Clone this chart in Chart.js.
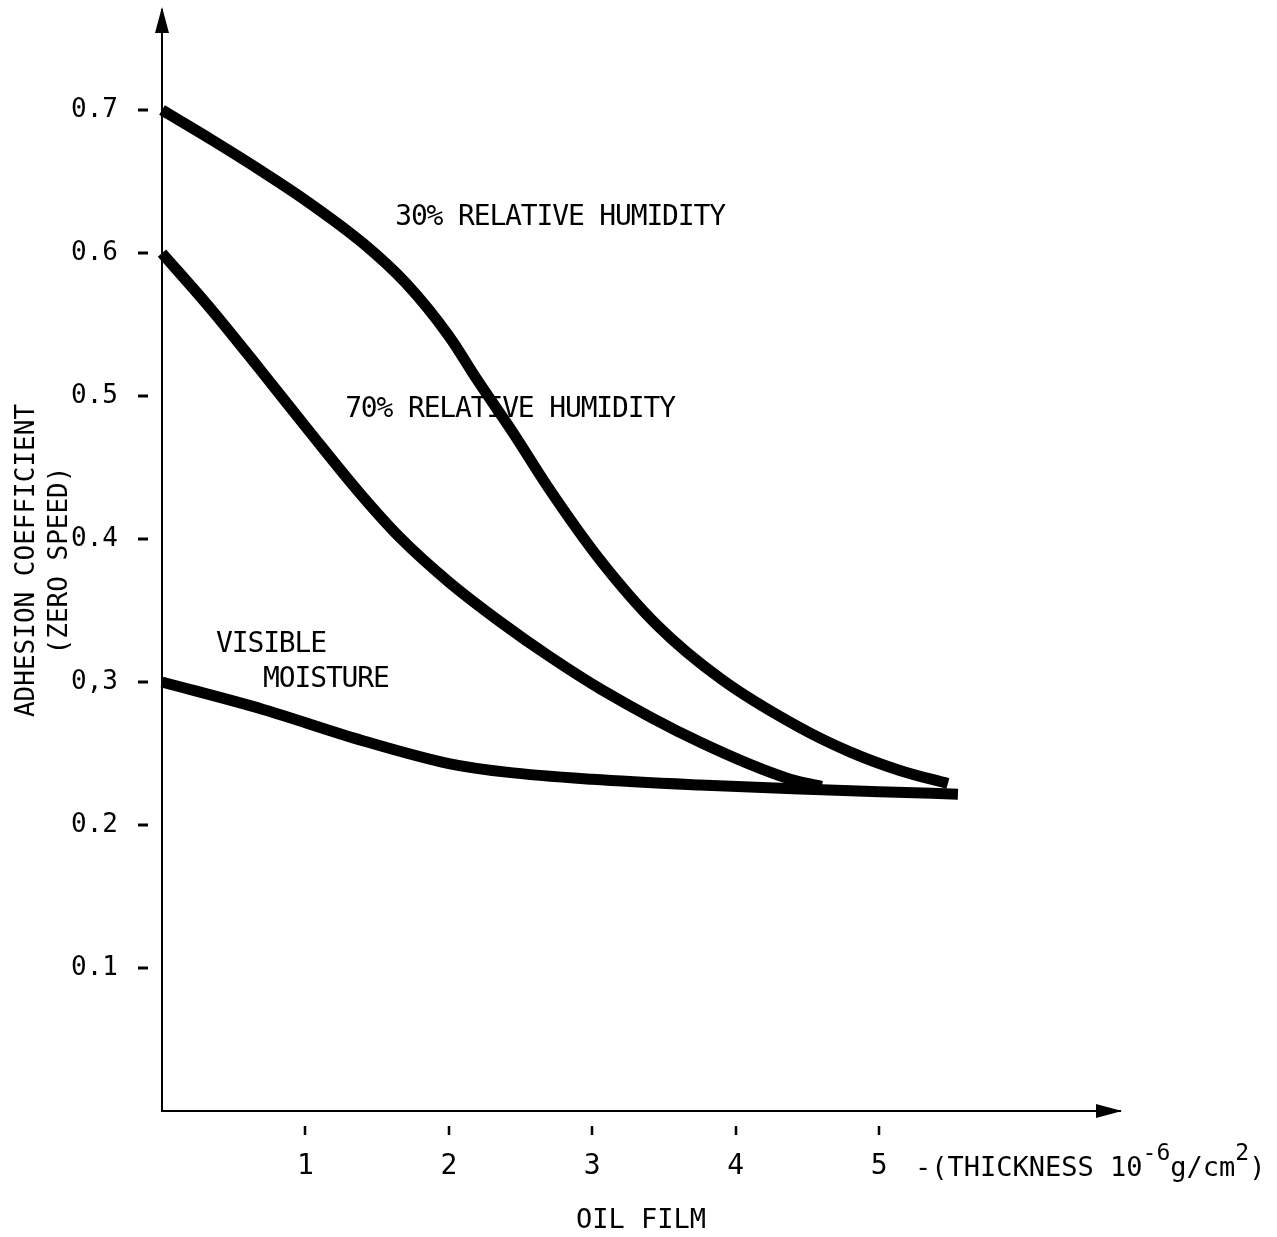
<!DOCTYPE html>
<html>
<head>
<meta charset="utf-8">
<title>Adhesion coefficient vs oil film thickness</title>
<script src="https://cdn.jsdelivr.net/npm/chart.js@4/dist/chart.umd.min.js"></script>
<style>
  html, body { margin: 0; padding: 0; background: #fff; }
  canvas { display: block; }
</style>
</head>
<body>
<canvas id="adhesion-chart" width="1277" height="1237"></canvas>
<script>
var FONT = '"DejaVu Sans Mono", "Liberation Mono", monospace';

// oil film thickness (10^-6 g/cm^2) against adhesion coefficient at zero speed
var rh30Thickness = [0, 0.35, 0.7, 1.0, 1.4, 1.7, 2.0, 2.2, 2.45, 2.7, 3.05, 3.45, 3.9, 4.45, 4.8, 5.15, 5.48];
var rh30Adhesion  = [0.700, 0.679, 0.657, 0.637, 0.607, 0.579, 0.542, 0.511, 0.474, 0.435, 0.386, 0.340, 0.302, 0.268, 0.251, 0.238, 0.229];

var rh70Thickness = [0, 0.34, 0.68, 1.03, 1.38, 1.66, 2.0, 2.36, 2.7, 3.06, 3.75, 4.38, 4.6];
var rh70Adhesion  = [0.600, 0.561, 0.519, 0.475, 0.432, 0.401, 0.370, 0.342, 0.318, 0.295, 0.258, 0.232, 0.227];

var moistThickness = [0, 0.7, 1.4, 2.0, 2.4, 3.0, 3.75, 4.4, 5.0, 5.55];
var moistAdhesion  = [0.300, 0.281, 0.259, 0.243, 0.237, 0.232, 0.228, 0.2254, 0.2233, 0.2216];

var xTickValues = [1, 2, 3, 4, 5];
var yTickValues = [0.1, 0.2, 0.3, 0.4, 0.5, 0.6, 0.7];
var yTickLabels = ['0.1', '0.2', '0,3', '0.4', '0.5', '0.6', '0.7'];

var seriesNames = ['30% RELATIVE HUMIDITY', '70% RELATIVE HUMIDITY', 'VISIBLE MOISTURE'];

function toPoints(xs, ys) {
	return xs.map(function(x, i) { return { x: x, y: ys[i] }; });
}

function curve(label, xs, ys) {
	return {
		label: label,
		data: toPoints(xs, ys),
		borderColor: '#000',
		borderWidth: 11,
		borderCapStyle: 'butt',
		cubicInterpolationMode: 'monotone',
		pointRadius: 0,
		fill: false,
		clip: false
	};
}

// curve captions, placed in data units (left edge, vertical centre)
var notes = [
	{ text: '30% RELATIVE HUMIDITY', x: 1.626, y: 0.625 },
	{ text: '70% RELATIVE HUMIDITY', x: 1.277, y: 0.4906 },
	{ text: 'VISIBLE', x: 0.377, y: 0.326 },
	{ text: 'MOISTURE', x: 0.705, y: 0.3015 }
];

// typewriter style: fixed pitch, glyphs a bit taller than the pitch allows
function drawPitched(ctx, text, x, y, pitch) {
	for (var i = 0; i < text.length; i++) {
		ctx.fillText(text[i], x + i * pitch, y);
	}
}

var decorations = {
	id: 'decorations',
	beforeDatasetsDraw: function(chart) {
		var ctx = chart.ctx;
		var xs = chart.scales.x, ys = chart.scales.y;
		ctx.save();
		ctx.fillStyle = '#000';
		ctx.font = '28px ' + FONT;
		ctx.textAlign = 'left';
		ctx.textBaseline = 'middle';
		notes.forEach(function(n) {
			drawPitched(ctx, n.text, xs.getPixelForValue(n.x), ys.getPixelForValue(n.y), 15.7);
		});
		ctx.restore();
	},
	afterDraw: function(chart) {
		var ctx = chart.ctx;
		var area = chart.chartArea;
		var xs = chart.scales.x, ys = chart.scales.y;
		ctx.save();
		ctx.strokeStyle = '#000';
		ctx.fillStyle = '#000';

		// short detached tick marks
		ctx.lineWidth = 3;
		ctx.beginPath();
		yTickValues.forEach(function(v) {
			var py = Math.round(ys.getPixelForValue(v));
			ctx.moveTo(area.left - 24, py);
			ctx.lineTo(area.left - 14, py);
		});
		ctx.stroke();
		ctx.lineWidth = 2.5;
		ctx.beginPath();
		xTickValues.forEach(function(v) {
			var px = Math.round(xs.getPixelForValue(v));
			ctx.moveTo(px, area.bottom + 15);
			ctx.lineTo(px, area.bottom + 24);
		});
		ctx.stroke();

		// arrow heads on both axes
		ctx.beginPath();
		ctx.moveTo(area.left, area.top - 3);
		ctx.lineTo(area.left - 7, area.top + 23);
		ctx.lineTo(area.left + 7, area.top + 23);
		ctx.closePath();
		ctx.fill();
		ctx.beginPath();
		ctx.moveTo(area.right + 2, area.bottom);
		ctx.lineTo(area.right - 24, area.bottom - 7);
		ctx.lineTo(area.right - 24, area.bottom + 7);
		ctx.closePath();
		ctx.fill();

		// unit label after the last tick
		var parts = [
			{ t: '-(THICKNESS 10', sup: false },
			{ t: '-6', sup: true },
			{ t: 'g/cm', sup: false },
			{ t: '2', sup: true },
			{ t: ')', sup: false }
		];
		var x = 915;
		var baseY = area.bottom + 65;
		ctx.textAlign = 'left';
		ctx.textBaseline = 'alphabetic';
		parts.forEach(function(p) {
			ctx.font = (p.sup ? '23px ' : '27px ') + FONT;
			ctx.fillText(p.t, x, p.sup ? baseY - 16 : baseY);
			x += ctx.measureText(p.t).width;
		});
		ctx.restore();
	}
};

// keep the plot area fixed: no extra room reserved around the tick labels
function noScalePadding(scale) {
	scale.paddingTop = 0;
	scale.paddingBottom = 0;
	scale.paddingLeft = 0;
	scale.paddingRight = 0;
}

var ctx = document.getElementById('adhesion-chart');

new Chart(ctx, {
	type: 'line',
	data: {
		datasets: [
			curve(seriesNames[0], rh30Thickness, rh30Adhesion),
			curve(seriesNames[1], rh70Thickness, rh70Adhesion),
			curve(seriesNames[2], moistThickness, moistAdhesion)
		]
	},
	options: {
		responsive: false,
		animation: false,
		devicePixelRatio: 1,
		layout: { padding: { top: 10, right: 157, left: 0, bottom: 0 } },
		plugins: {
			legend: { display: false },
			tooltip: { enabled: false }
		},
		scales: {
			x: {
				type: 'linear',
				min: 0,
				max: 6.68,
				afterBuildTicks: function(scale) {
					scale.ticks = xTickValues.map(function(v) { return { value: v }; });
				},
				afterFit: function(scale) {
					scale.height = 126;
					noScalePadding(scale);
				},
				grid: { display: false, drawTicks: false },
				border: { display: true, color: '#000', width: 2 },
				ticks: {
					color: '#000',
					font: { family: FONT, size: 28 },
					padding: 39,
					maxRotation: 0,
					autoSkip: false
				},
				title: {
					display: true,
					text: 'OIL FILM',
					color: '#000',
					font: { family: FONT, size: 27, lineHeight: 1.2 },
					padding: { top: 0, bottom: 0 }
				}
			},
			y: {
				type: 'linear',
				min: 0,
				max: 0.77,
				afterBuildTicks: function(scale) {
					scale.ticks = yTickValues.map(function(v) { return { value: v }; });
				},
				afterFit: function(scale) {
					scale.width = 162;
					noScalePadding(scale);
				},
				grid: { display: false, drawTicks: false },
				border: { display: true, color: '#000', width: 2 },
				ticks: {
					color: '#000',
					font: { family: FONT, size: 26 },
					padding: 44,
					callback: function(value) {
						var i = yTickValues.indexOf(value);
						return i >= 0 ? yTickLabels[i] : '';
					}
				},
				title: {
					display: true,
					text: ['ADHESION COEFFICIENT', '(ZERO SPEED)'],
					color: '#000',
					font: { family: FONT, size: 26, lineHeight: 1.3 },
					padding: { top: 10, bottom: 0 }
				}
			}
		}
	},
	plugins: [decorations]
});
</script>
</body>
</html>
